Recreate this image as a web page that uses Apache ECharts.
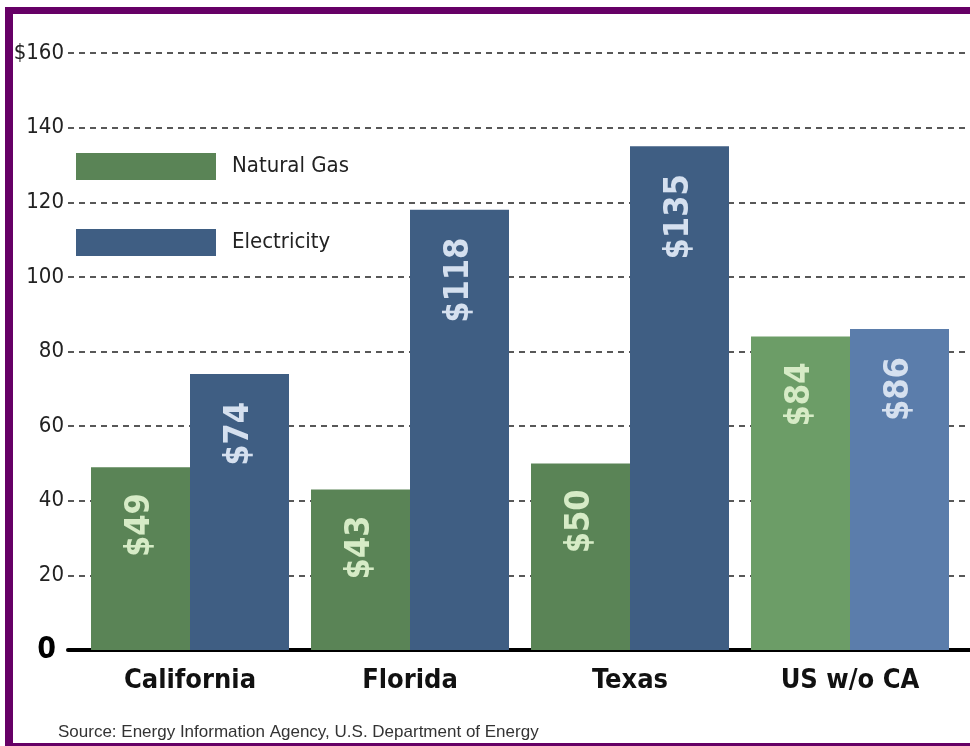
<!DOCTYPE html>
<html>
<head>
<meta charset="utf-8">
<script src="https://cdn.jsdelivr.net/npm/echarts@6/dist/echarts.min.js"></script>
<style>
  html, body { margin: 0; padding: 0; background: #fff; }
  #main { width: 970px; height: 746px; }
</style>
</head>
<body>
<div id="main"></div>
<script>
var regions = ['California', 'Florida', 'Texas', 'US w/o CA'];
var gasCost = [49, 43, 50, 84];
var elecCost = [74, 118, 135, 86];
var yTicks = [0, 20, 40, 60, 80, 100, 120, 140, 160];

var narrow = '"DejaVu Sans Condensed", "Liberation Sans Narrow", sans-serif';

// last group (US average) is drawn in lighter tones
function barData(values, dark, light) {
    return values.map(function (v, i) {
        return {
            value: v,
            itemStyle: { color: i === values.length - 1 ? light : dark }
        };
    });
}

var myChart = echarts.init(document.getElementById('main'));
var option = {
    backgroundColor: '#fff',
    animation: false,
    grid: [
        { left: 68, right: 0, top: 53, bottom: 96 },
        { left: 80, right: 10, top: 53, bottom: 96 }
    ],
    legend: {
        orient: 'vertical',
        left: 71,
        top: 148,
        itemWidth: 140,
        itemHeight: 27,
        itemGap: 49,
        icon: 'rect',
        textStyle: {
            fontFamily: narrow,
            fontSize: 22,
            color: '#222',
            padding: [0, 0, 0, 11]
        },
        data: ['Natural Gas', 'Electricity']
    },
    xAxis: [
        {
            gridIndex: 0,
            type: 'category',
            data: [''],
            axisLine: { show: true, lineStyle: { color: '#000', width: 4 } },
            axisTick: { show: false },
            axisLabel: { show: false }
        },
        {
            gridIndex: 1,
            type: 'category',
            data: regions,
            axisLine: { show: false },
            axisTick: { show: false },
            axisLabel: {
                margin: 17,
                fontFamily: narrow,
                fontWeight: 'bold',
                fontSize: 27,
                color: '#111'
            }
        }
    ],
    yAxis: [
        {
            gridIndex: 0,
            type: 'value',
            min: yTicks[0],
            max: yTicks[yTicks.length - 1],
            interval: 20,
            axisLine: { show: false },
            axisTick: { show: false },
            splitLine: {
                lineStyle: { color: '#222', type: [6, 5], width: 1.5 }
            },
            axisLabel: {
                margin: 4,
                fontFamily: narrow,
                fontSize: 22,
                color: '#222',
                formatter: function (v) {
                    if (v === 0) return '{zero|0}';
                    if (v === 160) return '$' + v;
                    return String(v);
                },
                rich: {
                    zero: {
                        fontFamily: narrow,
                        fontSize: 30,
                        fontWeight: 'bold',
                        color: '#000',
                        padding: [0, 8, 0, 0]
                    }
                }
            }
        },
        {
            gridIndex: 1,
            type: 'value',
            min: yTicks[0],
            max: yTicks[yTicks.length - 1],
            show: false
        }
    ],
    series: [
        {
            name: 'Natural Gas',
            type: 'bar',
            xAxisIndex: 1,
            yAxisIndex: 1,
            barWidth: 99,
            barGap: '0%',
            color: '#5a8456',
            data: barData(gasCost, '#5a8456', '#6c9d67'),
            label: {
                show: true,
                position: 'insideTop',
                rotate: 90,
                align: 'right',
                verticalAlign: 'middle',
                distance: 26,
                fontFamily: narrow,
                fontWeight: 'bold',
                fontSize: 34,
                color: '#d6ebc6',
                formatter: '${c}'
            }
        },
        {
            name: 'Electricity',
            type: 'bar',
            xAxisIndex: 1,
            yAxisIndex: 1,
            barWidth: 99,
            barGap: '0%',
            color: '#3f5e83',
            data: barData(elecCost, '#3f5e83', '#5b7dab'),
            label: {
                show: true,
                position: 'insideTop',
                rotate: 90,
                align: 'right',
                verticalAlign: 'middle',
                distance: 28,
                fontFamily: narrow,
                fontWeight: 'bold',
                fontSize: 34,
                color: '#d5e0ef',
                formatter: '${c}'
            }
        }
    ],
    graphic: [
        { type: 'rect', shape: { x: 5, y: 7, width: 965, height: 7 }, style: { fill: '#660066' } },
        { type: 'rect', shape: { x: 5, y: 7, width: 8, height: 739 }, style: { fill: '#660066' } },
        { type: 'rect', shape: { x: 5, y: 743, width: 965, height: 3 }, style: { fill: '#660066' } },
        {
            type: 'text',
            left: 58,
            top: 724,
            style: {
                text: 'Source: Energy Information Agency, U.S. Department of Energy',
                font: '17px "Liberation Sans", Arial, sans-serif',
                fill: '#333'
            }
        }
    ]
};

myChart.setOption(option);
</script>
</body>
</html>
